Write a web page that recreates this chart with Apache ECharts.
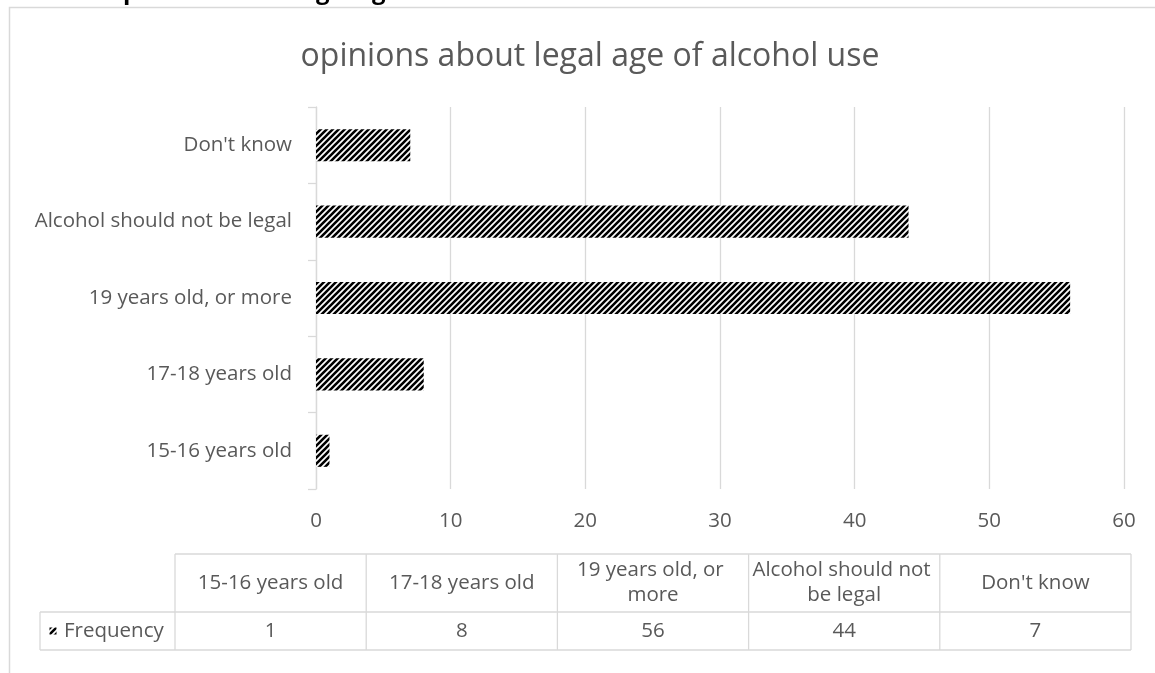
<!DOCTYPE html>
<html><head><meta charset="utf-8">
<script src="https://cdn.jsdelivr.net/npm/echarts@6/dist/echarts.min.js"></script>
<style>html,body{margin:0;padding:0;background:#fff}#c{width:1155px;height:673px}</style>
</head><body><div id="c"></div>
<script>
const categories = ['15-16 years old', '17-18 years old', '19 years old, or more', 'Alcohol should not be legal', "Don't know"];
const frequency = [1, 8, 56, 44, 7];
const xTicks = [0, 10, 20, 30, 40, 50, 60];
const seriesName = 'Frequency';
const titleText = 'opinions about legal age of alcohol use';
const headingText = 'Opinions about legal age of alcohol use';

const FONT = '"Open Sans"';
const FS = 20.5;
const GREY = '#595959';
const LINE = '#d9d9d9';

function makePattern() {
  const s = 6;
  const c = document.createElement('canvas');
  c.width = s; c.height = s;
  const g = c.getContext('2d');
  g.fillStyle = '#fff'; g.fillRect(0, 0, s, s);
  g.strokeStyle = '#000'; g.lineWidth = 2.6;
  g.beginPath();
  g.moveTo(-2, 2); g.lineTo(2, -2);
  g.moveTo(0, s); g.lineTo(s, 0);
  g.moveTo(s - 2, s + 2); g.lineTo(s + 2, s - 2);
  g.stroke();
  return c;
}
const pat = makePattern();

const chart = echarts.init(document.getElementById('c'), null, {renderer: 'canvas'});

const tblLeft = 40, firstColW = 135, tblRight = 1131;
const colW = (tblRight - tblLeft - firstColW) / categories.length;
const rowTop = 554, rowMid = 612, rowBot = 650;
const graphics = [];
graphics.push({type: 'rect', shape: {x: 9.5, y: 7.5, width: 1160, height: 700}, style: {fill: 'none', stroke: LINE, lineWidth: 1.5}, silent: true});
graphics.push({type: 'text', x: 104, y: 4, style: {text: headingText, font: 'bold 24px ' + FONT, fill: '#000', textVerticalAlign: 'bottom', verticalAlign: 'bottom'}, silent: true});
const x0 = tblLeft + firstColW;
const hl = (y, xa, xb) => graphics.push({type: 'line', shape: {x1: xa, y1: y, x2: xb, y2: y}, style: {stroke: LINE, lineWidth: 1.3}, silent: true});
const vl = (x, ya, yb) => graphics.push({type: 'line', shape: {x1: x, y1: ya, x2: x, y2: yb}, style: {stroke: LINE, lineWidth: 1.3}, silent: true});
hl(rowTop, x0, tblRight);
hl(rowMid, tblLeft, tblRight);
hl(rowBot, tblLeft, tblRight);
vl(tblLeft, rowMid, rowBot);
for (let i = 0; i <= categories.length; i++) vl(x0 + i * colW, rowTop, rowBot);
categories.forEach((cat, i) => {
  const cx = x0 + (i + 0.5) * colW;
  graphics.push({type: 'text', x: cx, y: (rowTop + rowMid) / 2, style: {text: cat, width: colW - 4, overflow: 'break', lineHeight: 25, font: FS + 'px ' + FONT, fill: GREY, align: 'center', verticalAlign: 'middle', textAlign: 'center', textVerticalAlign: 'middle'}, silent: true});
  graphics.push({type: 'text', x: cx, y: (rowMid + rowBot) / 2, style: {text: String(frequency[i]), font: FS + 'px ' + FONT, fill: GREY, align: 'center', verticalAlign: 'middle', textAlign: 'center', textVerticalAlign: 'middle'}, silent: true});
});
graphics.push({type: 'rect', shape: {x: 49.5, y: 627.5, width: 7, height: 7}, style: {fill: {image: pat, repeat: 'repeat'}}, silent: true});
graphics.push({type: 'text', x: 64, y: (rowMid + rowBot) / 2, style: {text: seriesName, font: FS + 'px ' + FONT, fill: GREY, align: 'left', verticalAlign: 'middle', textAlign: 'left', textVerticalAlign: 'middle'}, silent: true});

chart.setOption({
  animation: false,
  title: {text: titleText, left: 585, top: 36, textAlign: 'center', textStyle: {fontFamily: FONT, fontSize: 32, fontWeight: 'normal', color: GREY}},
  grid: {left: 316, right: 31, top: 107, bottom: 184, containLabel: false},
  xAxis: {type: 'value', min: xTicks[0], max: xTicks[xTicks.length - 1], interval: 10,
    axisLine: {show: false}, axisTick: {show: false},
    splitLine: {show: true, lineStyle: {color: LINE, width: 1.3}},
    axisLabel: {color: GREY, fontFamily: FONT, fontSize: FS, margin: 22}},
  yAxis: {type: 'category', data: categories,
    axisLine: {show: true, lineStyle: {color: LINE, width: 1.3}},
    axisTick: {show: true, length: 8, lineStyle: {color: LINE, width: 1.3}},
    axisLabel: {color: GREY, fontFamily: FONT, fontSize: FS, margin: 24}},
  series: [{name: seriesName, type: 'bar', data: frequency, barCategoryGap: '58%',
    itemStyle: {color: {image: pat, repeat: 'repeat'}}}],
  graphic: graphics
});
</script></body></html>
